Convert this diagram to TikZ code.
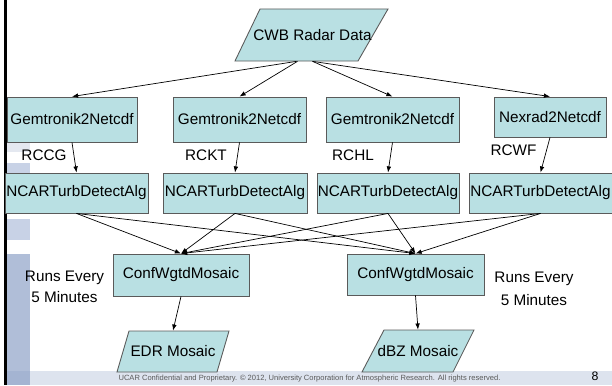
\documentclass[tikz,border=0pt]{standalone}
\usepackage{fontspec}
\setmainfont{Liberation Sans}
\usetikzlibrary{arrows.meta, positioning}
\definecolor{boxC}   {RGB}{185, 224, 227}
\definecolor{edgeC}  {RGB}{ 90,  90,  90}
\definecolor{barC}   {RGB}{176, 190, 216}
\definecolor{barD}   {RGB}{164, 180, 210}
\definecolor{footC}  {RGB}{221, 227, 238}
\definecolor{patC}   {RGB}{200, 210, 230}
\definecolor{patL}   {RGB}{228, 232, 240}

\begin{document}
\begin{tikzpicture}[
  font=\fontsize{8.7}{10}\selectfont,
  procbox/.style={draw=edgeC, fill=boxC, line width=0.5pt, inner sep=0pt,
                  minimum height=0.80cm},
  dataframe/.style={draw=edgeC, fill=boxC, line width=0.5pt},
  datatext/.style={inner sep=0pt, minimum height=0.84cm},
  flow/.style={-{Latex[length=3.5pt, width=2.6pt]}, line width=0.4pt},
]

\useasboundingbox (0,0) rectangle (12.24,7.70);

% ============================================================
% Slide background: left rule, side bar, footer band
% ============================================================
\fill[black]  (0.08,0) rectangle (0.14,7.70);
\fill[patL]   (0.14,4.66) rectangle (0.60,4.84);
\fill[patC]   (0.14,4.24) rectangle (0.60,4.44);
\fill[patC]   (0.14,2.90) rectangle (0.60,3.32);
\fill[barC]   (0.14,0) rectangle (0.60,2.62);
\fill[barD]   (0.14,0) rectangle (0.60,0.28);
\fill[footC]  (0.60,0) rectangle (12.24,0.28);

\node[font=\fontsize{4.3}{5}\selectfont, gray!70!black] (foot) at (6.19,0.12)
  {UCAR Confidential and Proprietary. \textcopyright\ 2012, University Corporation for Atmospheric Research. All rights reserved.};
\node[font=\fontsize{7}{8}\selectfont] (pnum) at (11.90,0.17) {8};

% ============================================================
% Input data (parallelogram)
% ============================================================
\draw[dataframe] (4.70,6.48) -- (5.20,7.52) -- (7.76,7.52) -- (7.16,6.48) -- cycle;
\node[datatext, minimum height=1.04cm] (cwb) at (6.25,7.00) {CWB Radar Data};

% ============================================================
% Converters (one per radar)
% ============================================================
\node[procbox, minimum width=2.60cm, minimum height=0.90cm] (g1) at (1.44,5.31) {Gemtronik2Netcdf};
\node[procbox, minimum width=2.66cm, minimum height=0.90cm] (g2) at (4.79,5.31) {Gemtronik2Netcdf};
\node[procbox, minimum width=2.66cm, minimum height=0.90cm] (g3) at (7.85,5.31) {Gemtronik2Netcdf};
\node[procbox, minimum width=2.24cm] (g4) at (11.00,5.36) {Nexrad2Netcdf};

% Radar names
\node (rccg) at (0.88,4.60) {RCCG};
\node (rckt) at (4.12,4.60) {RCKT};
\node (rchl) at (7.06,4.60) {RCHL};
\node (rcwf) at (10.27,4.70) {RCWF};

% ============================================================
% Turbulence detection
% ============================================================
\node[procbox, minimum width=2.86cm] (n1) at (1.53,3.84) {NCARTurbDetectAlg};
\node[procbox, minimum width=2.88cm] (n2) at (4.70,3.84) {NCARTurbDetectAlg};
\node[procbox, minimum width=2.84cm] (n3) at (7.76,3.84) {NCARTurbDetectAlg};
\node[procbox, minimum width=2.86cm] (n4) at (10.81,3.84) {NCARTurbDetectAlg};

% ============================================================
% Mosaics
% ============================================================
\node[procbox, minimum width=2.72cm, minimum height=0.84cm] (c1) at (3.62,2.20) {ConfWgtdMosaic};
\node[procbox, minimum width=2.74cm, minimum height=0.82cm] (c2) at (8.31,2.21) {ConfWgtdMosaic};

\node[align=center, font=\fontsize{8.7}{12}\selectfont] (run1) at (1.29,1.97) {Runs Every\\5 Minutes};
\node[align=center, font=\fontsize{8.7}{13}\selectfont] (run2) at (10.68,1.93) {Runs Every\\5 Minutes};

% Output products (parallelograms)
\draw[dataframe] (2.34,0.26) -- (2.58,1.08) -- (4.58,1.08) -- (4.34,0.26) -- cycle;
\node[datatext, minimum height=0.82cm] (m1) at (3.46,0.67) {EDR Mosaic};
\draw[dataframe] (7.24,0.26) -- (7.68,1.10) -- (9.48,1.10) -- (9.06,0.26) -- cycle;
\node[datatext] (m2) at (8.36,0.68) {dBZ Mosaic};

% ============================================================
% Connectors
% ============================================================
\draw[flow] ([xshift=-0.32cm]cwb.south) -- (g1.north);
\draw[flow] ([xshift=-0.30cm]cwb.south) -- (g2.north);
\draw[flow] (cwb.south) -- (g3.north);
\draw[flow] (cwb.south) -- (g4.north);
\foreach \i in {1,...,4}{
  \draw[flow] (g\i.south) -- (n\i.north);
}
\foreach \n in {n1,n2,n3,n4}{
  \foreach \c in {c1,c2}{
    \draw[flow] (\n.south) -- (\c.north);
  }
}
\draw[flow] (c1.south) -- (m1.north);
\draw[flow] (c2.south) -- (m2.north);

\end{tikzpicture}
\end{document}
